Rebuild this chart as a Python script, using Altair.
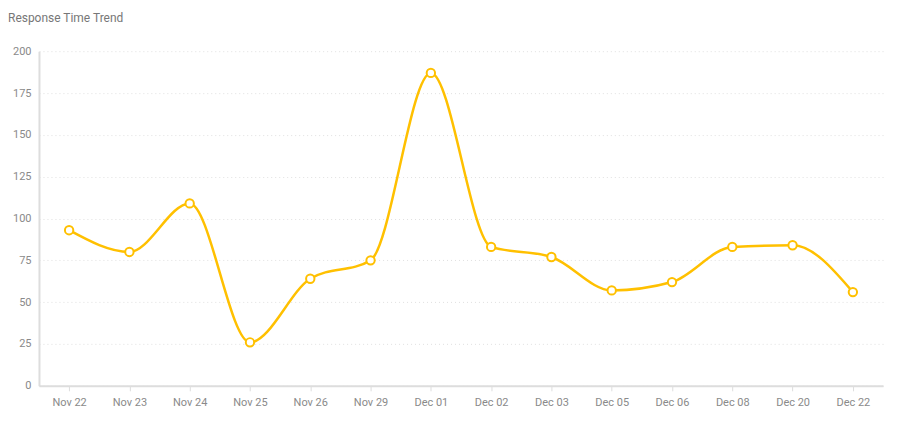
import altair as alt
import pandas as pd

dates = ["Nov 22", "Nov 23", "Nov 24", "Nov 25", "Nov 26", "Nov 29", "Dec 01",
         "Dec 02", "Dec 03", "Dec 05", "Dec 06", "Dec 08", "Dec 20", "Dec 22"]
response = [93, 80, 109, 26, 64, 75, 187, 83, 77, 57, 62, 83, 84, 56]

df = pd.DataFrame({"date": dates, "value": response})

x = alt.X("date:N", sort=dates, title=None,
          scale=alt.Scale(type="point", padding=0.5),
          axis=alt.Axis(labelAngle=0, labelColor="#8a8a8a", labelFontSize=11,
                        labelFont="Roboto", labelPadding=6,
                        domainColor="#dddddd", domainWidth=2,
                        tickColor="#dddddd", tickSize=5, grid=False))
y = alt.Y("value:Q", title=None,
          scale=alt.Scale(domain=[0, 200], nice=False),
          axis=alt.Axis(values=[0, 25, 50, 75, 100, 125, 150, 175, 200],
                        labelColor="#8a8a8a", labelFontSize=11, labelFont="Roboto",
                        labelPadding=8, ticks=False,
                        domainColor="#dddddd", domainWidth=2,
                        gridColor="#e0e0e0", gridDash=[1, 3], gridWidth=1))

base = alt.Chart(df).encode(x=x, y=y)

line = base.mark_line(interpolate="monotone", color="#FFC000", strokeWidth=2.5)
pts = base.mark_point(filled=True, fill="white", stroke="#FFC000",
                      strokeWidth=2, size=70, opacity=1)

chart = (line + pts).properties(
    width=845, height=335,
    autosize=alt.AutoSizeParams(type="none"),
    padding={"left": 31, "top": 43, "right": 20, "bottom": 30},
    title=alt.TitleParams("Response Time Trend", anchor="start", frame="group",
                          dx=-31, offset=20, fontSize=12, font="Roboto",
                          fontWeight="normal", color="#777777"),
).configure_view(stroke=None)

chart.save("out.html", embed_options={"renderer": "svg", "actions": False})
